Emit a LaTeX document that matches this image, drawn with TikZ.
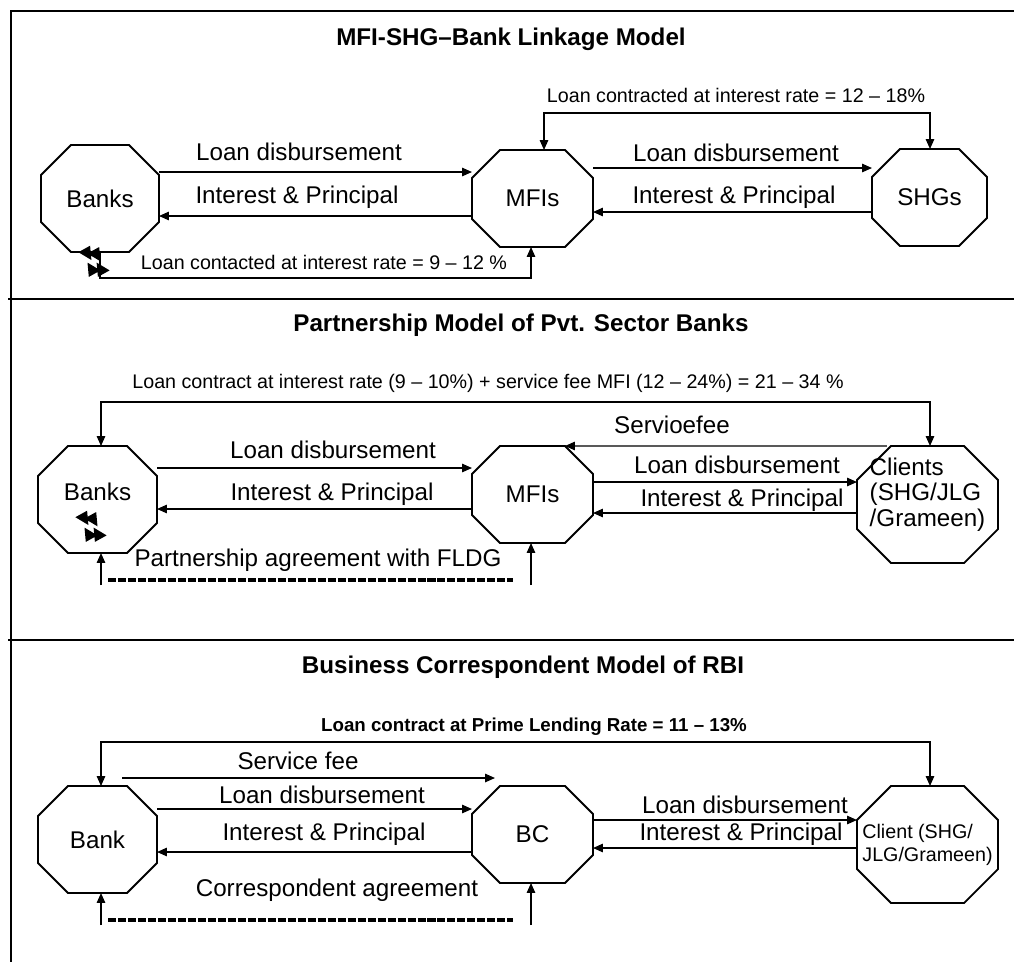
\documentclass[tikz,border=0pt]{standalone}
\usepackage{fontspec}
\setmainfont{Liberation Sans}
\usetikzlibrary{arrows.meta}

% stray arrow heads left under the bank boxes
\newcommand{\strayheads}[2]{%
  \fill[shift={(#1,#2)},scale=1.3] (-12,-6) -- (-3,-11) -- (-2,0) -- cycle
    (-5,-5) -- (4,-10) -- (5,1) -- cycle
    (12,8) -- (3,13) -- (2,2) -- cycle
    (5,8) -- (-4,13) -- (-5,2) -- cycle;}

\begin{document}
\begin{tikzpicture}[x=0.025cm,y=-0.025cm,>={Triangle[length=7pt,width=6pt]},
  lbl/.style={font=\fontsize{17.2}{18.1}\selectfont,inner sep=0},
  sml/.style={font=\fontsize{14}{16.4}\selectfont,inner sep=0},
  ttl/.style={font=\bfseries\fontsize{17.2}{20}\selectfont,inner sep=0},
  octo/.style={lbl,draw=none,outer sep=0},
  conn/.style={line width=0.9pt},
  octline/.style={line width=1.3pt,line join=miter},
  agree/.style={line width=2.2pt,dash pattern=on 5.7pt off 1.4pt},
  rule/.style={line width=0.9pt}]
\useasboundingbox (0,0) rectangle (1014,962);
% frame
\draw[line width=2.1pt] (10,11) -- (1014,11);
\draw[line width=1.8pt] (11,11) -- (11,962);
\draw[rule] (8,299) -- (1014,299);
\draw[rule] (8,640) -- (1014,640);

% MFI-SHG-Bank linkage model
\node[ttl] (titleA) at (511,39) {MFI-SHG--Bank Linkage Model};
\node[octo,minimum width=2.95cm,minimum height=2.675cm] (banksA) at (100,198.5) {Banks};
\node[octo,minimum width=3.025cm,minimum height=2.425cm] (mfiA) at (532.5,198.5) {MFIs};
\node[octo,minimum width=2.875cm,minimum height=2.425cm] (shgA) at (929.5,197.5) {SHGs};
\draw[conn,->] (banksA.east |- 0,172) -- (mfiA.west |- 0,172);
\node[lbl] (ldA) at (299,152) {Loan disbursement};
\draw[conn,->] (mfiA.west |- 0,216) -- (banksA.east |- 0,216);
\node[lbl] (ipA) at (297,197) {Interest \& Principal};
\draw[conn,->] (mfiA.east |- 0,168) -- (shgA.west |- 0,168);
\node[lbl] (ldB) at (736,153) {Loan disbursement};
\draw[conn,->] (shgA.west |- 0,212) -- (mfiA.east |- 0,212);
\node[lbl] (ipB) at (734,197) {Interest \& Principal};
\draw[conn,<->] (mfiA.north -| 544,0) -- (544,113) -| (shgA.north -| 930,0);
\node[sml] (rateA) at (736,95) {Loan contracted at interest rate = 12 -- 18\%};
\draw[conn,->] (banksA.south -| 100,0) -- (100,278) -| (mfiA.south -| 531,0);
\node[sml] (rateB) at (324,262) {Loan contacted at interest rate = 9 -- 12 \%};
\strayheads{94}{260}

% Partnership model
\node[ttl] (titleB) at (521,325) {Partnership Model of Pvt. Sector Banks};
\node[octo,minimum width=2.975cm,minimum height=2.675cm,text depth=10.7pt] (banksB) at (97.5,499.5) {Banks};
\node[octo,minimum width=3.025cm,minimum height=2.425cm] (mfiB) at (532.5,494.5) {MFIs};
\node[octo,minimum width=3.525cm,minimum height=2.925cm,text depth=54pt] (cliB) at (927.5,504.5)
  {\begin{tabular}[t]{@{}l@{}}Clients\\(SHG/JLG\\/Grameen)\end{tabular}};
\node[sml] (rateC) at (488,383) {Loan contract at interest rate (9 -- 10\%) + service fee MFI (12 -- 24\%) = 21 -- 34 \%};
\draw[conn,<->] (banksB.north -| 101,0) -- (101,402) -| (cliB.north -| 930,0);
\draw[conn,->] ([xshift=0.75cm]cliB.north west) -- ([xshift=-0.7cm]mfiB.north east);
\node[lbl] (feeB) at (672,425) {Servioefee};
\draw[conn,->] (banksB.east |- 0,468) -- (mfiB.west |- 0,468);
\node[lbl] (ldC) at (333,450) {Loan disbursement};
\draw[conn,->] (mfiB.west |- 0,509) -- (banksB.east |- 0,509);
\node[lbl] (ipC) at (332,494) {Interest \& Principal};
\draw[conn,->] (mfiB.east |- 0,482) -- (cliB.west |- 0,482);
\node[lbl] (ldD) at (737,465) {Loan disbursement};
\draw[conn,->] (cliB.west |- 0,513) -- (mfiB.east |- 0,513);
\node[lbl] (ipD) at (742,500) {Interest \& Principal};
\coordinate (footA) at (101,585);
\coordinate (footB) at (531,585);
\draw[conn,->] (footA) -- (banksB.south -| footA);
\draw[conn,->] (footB) -- (mfiB.south -| footB);
\draw[agree] (108,580) -- (513,580);
\node[lbl] (agreeB) at (318,560) {Partnership agreement with FLDG};
\strayheads{91}{525}

% Business correspondent model
\node[ttl] (titleC) at (523,667) {Business Correspondent Model of RBI};
\node[octo,minimum width=2.975cm,minimum height=2.675cm] (bankC) at (97.5,839.5) {Bank};
\node[octo,minimum width=3.025cm,minimum height=2.425cm] (bcC) at (532.5,834.5) {BC};
\node[octo,sml,align=left,minimum width=3.525cm,minimum height=2.925cm] (cliC) at (927.5,844.5)
  {Client (SHG/\\JLG/Grameen)};
\node[ttl,font=\bfseries\fontsize{13.3}{16}\selectfont] (rateD) at (534,727) {Loan contract at Prime Lending Rate = 11 -- 13\%};
\draw[conn,<->] (bankC.north -| 101,0) -- (101,742) -| (cliC.north -| 930,0);
\coordinate (feeS) at (122,778);
\coordinate (feeE) at (495,778);
\draw[conn,->] (feeS) -- (feeE);
\node[lbl] (feeC) at (298,761) {Service fee};
\draw[conn,->] (bankC.east |- 0,809) -- (bcC.west |- 0,809);
\node[lbl] (ldE) at (322,795) {Loan disbursement};
\draw[conn,->] (bcC.west |- 0,852) -- (bankC.east |- 0,852);
\node[lbl] (ipE) at (324,834) {Interest \& Principal};
\draw[conn,->] (bcC.east |- 0,820) -- (cliC.west |- 0,820);
\node[lbl] (ldF) at (745,805) {Loan disbursement};
\draw[conn,->] (cliC.west |- 0,848) -- (bcC.east |- 0,848);
\node[lbl] (ipF) at (741,834) {Interest \& Principal};
\coordinate (footC) at (101,925);
\coordinate (footD) at (531,925);
\draw[conn,->] (footC) -- (bankC.south -| footC);
\draw[conn,->] (footD) -- (bcC.south -| footD);
\draw[agree] (108,920) -- (513,920);
\node[lbl] (agreeC) at (337,890) {Correspondent agreement};

% octagon outlines
\foreach \n/\ch in {banksA/0.75,mfiA/0.7,shgA/0.7,banksB/0.75,mfiB/0.7,cliB/0.85,bankC/0.75,bcC/0.7,cliC/0.85}
  \draw[octline] ([xshift=\ch cm]\n.north west) -- ([xshift=-\ch cm]\n.north east)
    -- ([yshift=-\ch cm]\n.north east) -- ([yshift=\ch cm]\n.south east)
    -- ([xshift=-\ch cm]\n.south east) -- ([xshift=\ch cm]\n.south west)
    -- ([yshift=\ch cm]\n.south west) -- ([yshift=-\ch cm]\n.north west) -- cycle;
\end{tikzpicture}
\end{document}
